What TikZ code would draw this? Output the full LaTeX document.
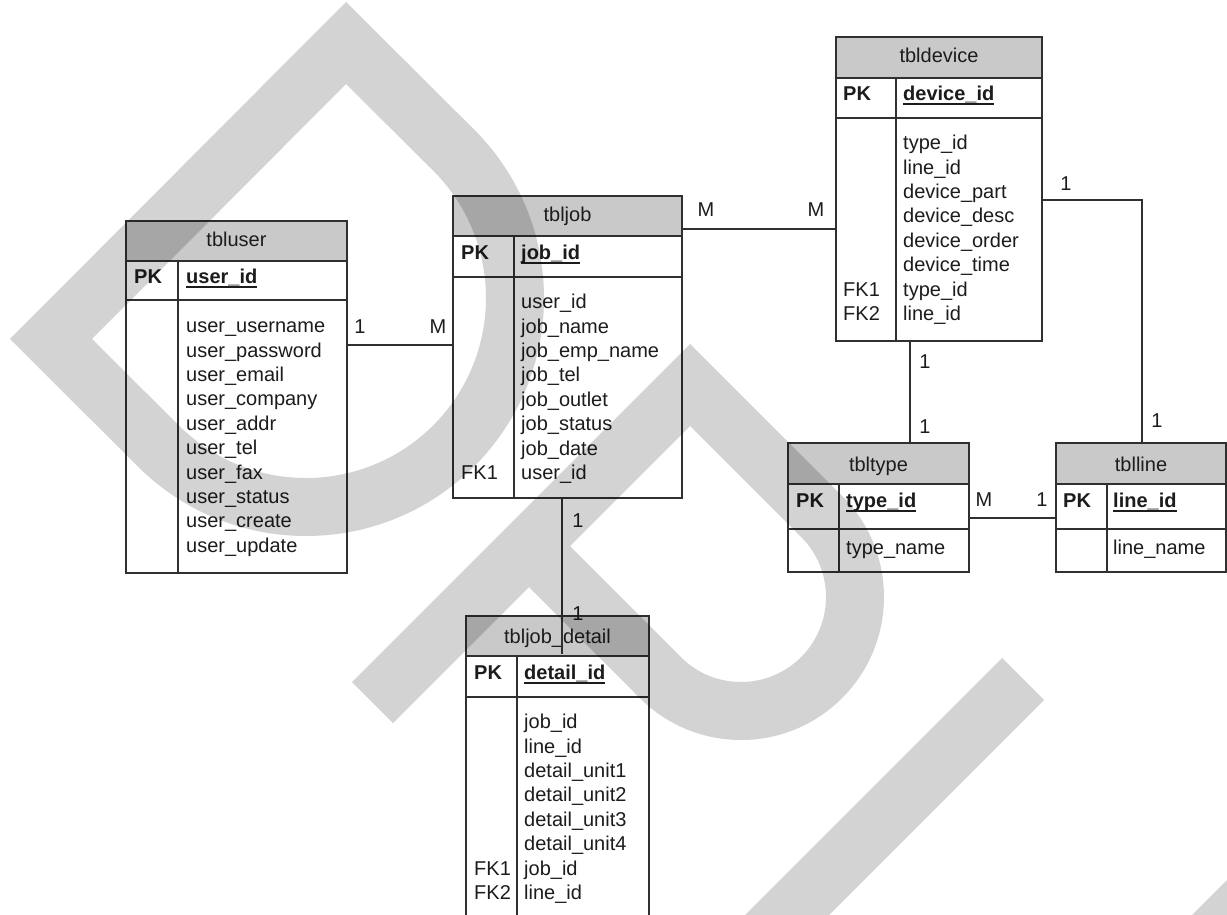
\documentclass[tikz,border=0pt]{standalone}
\usepackage{fontspec}
\setmainfont{Liberation Sans}
\definecolor{linec}{RGB}{48,48,48}
\definecolor{txtc}{RGB}{28,28,28}
\definecolor{titlefill}{RGB}{201,201,201}
\newcommand{\pkline}[1]{\setbox0=\hbox{#1}\rlap{\rule[-4pt]{\wd0}{1.5pt}}\box0}
\tikzset{
  tframe/.style={draw=linec, line width=1.5pt, inner sep=0pt, outer sep=0pt, rectangle},
  tline/.style={draw=linec, line width=1.5pt},
  ttl/.style={anchor=base, inner sep=0pt, font=\fontsize{20}{24}\selectfont, text=txtc},
  fld/.style={anchor=mid west, inner sep=0pt, font=\fontsize{20}{24}\selectfont, text=txtc},
  keyf/.style={anchor=mid west, inner sep=0pt, font=\fontsize{20}{24}\selectfont\bfseries, text=txtc},
  card/.style={anchor=center, inner sep=0pt, font=\fontsize{20}{24}\selectfont, text=txtc},
  conn/.style={draw=linec, line width=1.5pt},
  wm/.style={fill=black, fill opacity=0.1725, even odd rule}
}
% #1 name, #2 x0, #3 y0, #4 x1, #5 title bottom, #6 key bottom, #7 bottom, #8 divider x
\newcommand{\erbox}[8]{%
  \fill[titlefill] (#2,-#3) rectangle (#4,-#5);
  \node[tframe, anchor=north west, minimum width={(#4-#2)*1pt}, minimum height={(#7-#3)*1pt}] (#1) at (#2,-#3) {};
  \draw[tline] (#2,-#5) -- (#4,-#5) (#2,-#6) -- (#4,-#6) (#8,-#5) -- (#8,-#7);
}
\begin{document}
\begin{tikzpicture}[x=1pt,y=1pt]
\useasboundingbox (0,0) rectangle (1227,-915);
\fill[white] (0,0) rectangle (1227,-915);
\clip (0,0) rectangle (1227,-915);

% ---------- tbluser ----------
\erbox{user}{126}{221}{347}{261}{300}{573}{178}
\node[ttl] (user-t) at (236.5,-247) {tbluser};
\node[keyf] (user-pk) at (134,-281) {PK};
\node[keyf] (user-id) at (186,-281) {\pkline{user\_id}};
\foreach \t [count=\i from 0] in {user\_username,user\_password,user\_email,user\_company,user\_addr,user\_tel,user\_fax,user\_status,user\_create,user\_update}
  \node[fld] (user-f\i) at (186,-330-24.4*\i) {\t};

% ---------- tbljob ----------
\erbox{job}{453}{196}{682}{236}{277}{498}{514}
\node[ttl] (job-t) at (567.5,-222) {tbljob};
\node[keyf] (job-pk) at (461,-257) {PK};
\node[keyf] (job-id) at (521,-257) {\pkline{job\_id}};
\foreach \t [count=\i from 0] in {user\_id,job\_name,job\_emp\_name,job\_tel,job\_outlet,job\_status,job\_date,user\_id}
  \node[fld] (job-f\i) at (521,-306-24.4*\i) {\t};
\node[fld] (job-fk1) at (461,-306-24.4*7) {FK1};

% ---------- tbldevice ----------
\erbox{device}{836}{37}{1042}{78}{118}{341}{896}
\node[ttl] (device-t) at (939,-63) {tbldevice};
\node[keyf] (device-pk) at (843,-98) {PK};
\node[keyf] (device-id) at (903,-98) {\pkline{device\_id}};
\foreach \t [count=\i from 0] in {type\_id,line\_id,device\_part,device\_desc,device\_order,device\_time,type\_id,line\_id}
  \node[fld] (device-f\i) at (903,-147-24.4*\i) {\t};
\node[fld] (device-fk1) at (843,-147-24.4*6) {FK1};
\node[fld] (device-fk2) at (843,-147-24.4*7) {FK2};

% ---------- tbltype ----------
\erbox{type}{788}{443}{969}{484}{529}{572}{839}
\node[ttl] (type-t) at (878.5,-471) {tbltype};
\node[keyf] (type-pk) at (796,-505) {PK};
\node[keyf] (type-id) at (846,-505) {\pkline{type\_id}};
\node[fld] (type-f0) at (846,-552) {type\_name};

% ---------- tblline ----------
\erbox{line}{1056}{443}{1226}{484}{529}{572}{1107}
\node[ttl] (line-t) at (1141,-471) {tblline};
\node[keyf] (line-pk) at (1063,-505) {PK};
\node[keyf] (line-id) at (1113,-505) {\pkline{line\_id}};
\node[fld] (line-f0) at (1113,-552) {line\_name};

% ---------- tbljob_detail ----------
\erbox{detail}{466}{616}{649}{656}{697}{935}{517}
\node[ttl] (detail-t) at (557.5,-643) {tbljob\_detail};
\node[keyf] (detail-pk) at (474,-677) {PK};
\node[keyf] (detail-id) at (524,-677) {\pkline{detail\_id}};
\foreach \t [count=\i from 0] in {job\_id,line\_id,detail\_unit1,detail\_unit2,detail\_unit3,detail\_unit4,job\_id,line\_id}
  \node[fld] (detail-f\i) at (524,-726-24.4*\i) {\t};
\node[fld] (detail-fk1) at (474,-726-24.4*6) {FK1};
\node[fld] (detail-fk2) at (474,-726-24.4*7) {FK2};

% ---------- connectors ----------
\coordinate (r1) at (0,-345);
\draw[conn] (user.east |- r1) -- (job.west |- r1);
\node[card] (c1a) at (360,-327) {1};
\node[card] (c1b) at (438,-327) {M};

\coordinate (r2) at (0,-229);
\draw[conn] (job.east |- r2) -- (device.west |- r2);
\node[card] (c2a) at (706,-210) {M};
\node[card] (c2b) at (816,-210) {M};

\coordinate (r3) at (0,-200);
\coordinate (c3) at (1142,0);
\draw[conn] (device.east |- r3) -- (c3 |- r3) -- (c3 |- line.north);
\node[card] (c3a) at (1066,-184) {1};
\node[card] (c3b) at (1157,-421) {1};

\coordinate (c4) at (910,0);
\draw[conn] (c4 |- device.south) -- (c4 |- type.north);
\node[card] (c4a) at (925,-362) {1};
\node[card] (c4b) at (925,-427) {1};

\coordinate (r5) at (0,-518);
\draw[conn] (type.east |- r5) -- (line.west |- r5);
\node[card] (c5a) at (984,-500) {M};
\node[card] (c5b) at (1042,-500) {1};

\coordinate (c6) at (562,0);
\coordinate (r6) at (0,-654);
\draw[conn] (c6 |- job.south) -- (c6 |- r6);
\node[card] (c6a) at (578,-521) {1};
\node[card] (c6b) at (578,-614) {1};

% ---------- watermark ----------
\fill[wm] (346,-2) -- (10,-339) -- (137.7,-466.3) arc[start angle=225, end angle=405, radius=238] -- cycle
          (346,-84) -- (92,-339) -- (178.7,-425.3) arc[start angle=225, end angle=405, radius=180] -- cycle;
\fill[wm] (690,-344) -- (842.1,-495.9) arc[start angle=45, end angle=-135, radius=143] -- (529,-587) -- (393,-723) -- (352,-682) -- cycle
          (690,-426) -- (801.1,-536.9) arc[start angle=45, end angle=-135, radius=85] -- (570,-546) -- cycle;
\fill[wm] (1002,-658) -- (1044,-700) -- (744,-1000) -- (660,-1000) -- cycle;
\fill[wm] (1327,-780) -- (1412,-780) -- (1192,-1000) -- (1107,-1000) -- cycle;
\end{tikzpicture}
\end{document}
